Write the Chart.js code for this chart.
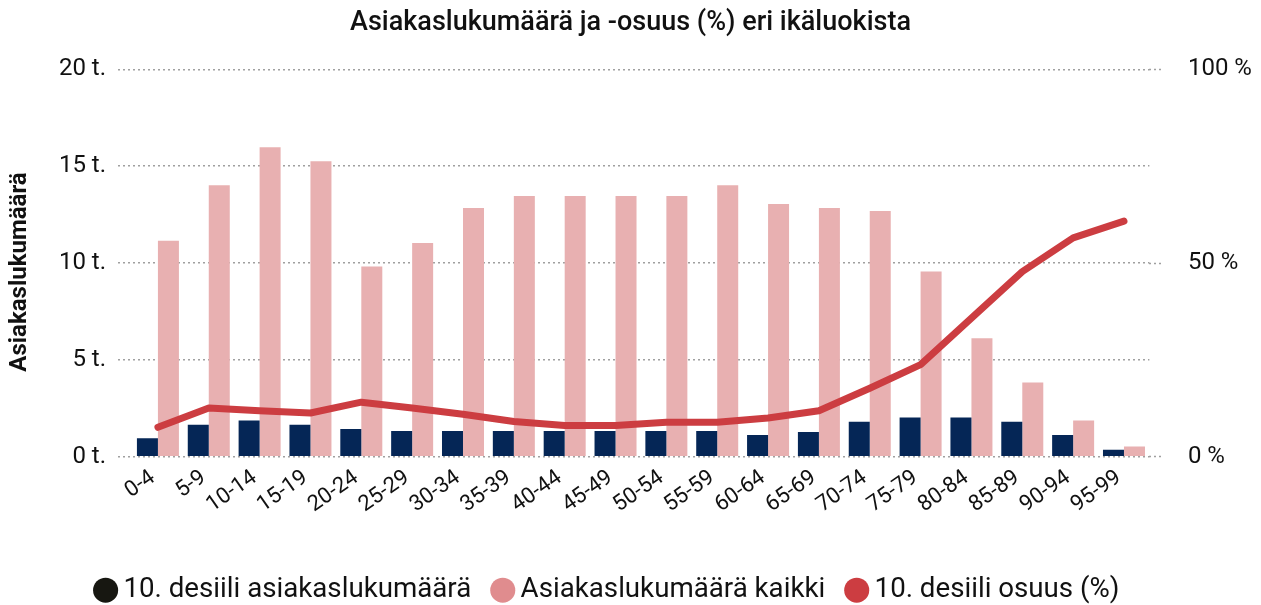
<!DOCTYPE html>
<html>
<head>
<meta charset="utf-8">
<script src="https://cdn.jsdelivr.net/npm/chart.js@4.4.1/dist/chart.umd.min.js"></script>
<style>
  html, body { margin: 0; padding: 0; background: #ffffff; }
  #wrap { width: 1261px; height: 605px; position: relative; }
</style>
</head>
<body>
<div id="wrap"><canvas id="c" width="1261" height="605"></canvas></div>
<script>
const categories = ['0-4','5-9','10-14','15-19','20-24','25-29','30-34','35-39','40-44','45-49','50-54','55-59','60-64','65-69','70-74','75-79','80-84','85-89','90-94','95-99'];
const desiili10Count = [960, 1650, 1870, 1650, 1440, 1330, 1330, 1330, 1330, 1330, 1330, 1330, 1120, 1280, 1810, 2030, 2030, 1810, 1120, 370];
const allCount = [11150, 14020, 15980, 15260, 9820, 11040, 12840, 13460, 13460, 13460, 13460, 14020, 13050, 12840, 12690, 9570, 6120, 3840, 1870, 530];
const desiili10Share = [7.6, 12.6, 11.9, 11.3, 14.1, 12.6, 11.0, 9.1, 8.1, 8.1, 8.9, 8.9, 10.0, 11.9, 17.7, 23.8, 35.8, 47.8, 56.5, 60.8];
const seriesNames = ['10. desiili asiakaslukumäärä', 'Asiakaslukumäärä kaikki', '10. desiili osuus (%)'];
const legendColors = ['#171711', '#e08c8e', '#cc3d41'];
const leftTicks = [0, 5000, 10000, 15000, 20000];
const rightTicks = [0, 50, 100];

const FONT = 'Roboto';
const gridColor = '#a0a0a0';
const gridDash = [2, 3];

const legendShift = {
  id: 'legendShift',
  afterLayout(chart) {
    const L = chart.legend;
    if (L) { L.left -= 20; L.right -= 20; }
  }
};

new Chart(document.getElementById('c'), {
  data: {
    labels: categories,
    datasets: [
      { type: 'bar', label: seriesNames[0], data: desiili10Count, backgroundColor: '#052656', yAxisID: 'y', order: 1,
        categoryPercentage: 0.826, barPercentage: 1 },
      { type: 'bar', label: seriesNames[1], data: allCount, backgroundColor: '#e8b0b1', yAxisID: 'y', order: 1,
        categoryPercentage: 0.826, barPercentage: 1 },
      { type: 'line', label: seriesNames[2], data: desiili10Share, borderColor: '#cc3d41', backgroundColor: '#cc3d41',
        borderWidth: 7, pointRadius: 0, pointHoverRadius: 0, borderCapStyle: 'round', borderJoinStyle: 'round',
        tension: 0, yAxisID: 'y1', order: 0 }
    ]
  },
  plugins: [legendShift],
  options: {
    responsive: false,
    animation: false,
    layout: { padding: { left: 0, right: 0, top: 0, bottom: -9 } },
    plugins: {
      tooltip: { enabled: false },
      title: {
        display: true,
        text: 'Asiakaslukumäärä ja -osuus (%) eri ikäluokista',
        color: '#111111',
        font: { family: FONT, size: 27, weight: '500' },
        padding: { top: 7, bottom: 29.9 }
      },
      legend: {
        position: 'bottom',
        labels: {
          usePointStyle: true,
          pointStyle: 'circle',
          boxWidth: 8,
          boxHeight: 17.7,
          padding: 27.5,
          color: '#111111',
          font: { family: FONT, size: 27.7 },
          sort: (a, b) => a.datasetIndex - b.datasetIndex,
          generateLabels: (chart) => {
            const items = Chart.defaults.plugins.legend.labels.generateLabels(chart);
            items.forEach(it => { it.fillStyle = legendColors[it.datasetIndex]; it.strokeStyle = legendColors[it.datasetIndex]; it.lineWidth = 0; });
            return items;
          }
        }
      }
    },
    scales: {
      x: {
        grid: { display: false },
        border: { display: false },
        ticks: {
          color: '#111111',
          font: { family: FONT, size: 22 },
          minRotation: 35, maxRotation: 35,
          padding: 0,
          labelOffset: -5,
          autoSkip: false
        },
        afterFit: (s) => { s.height = 92; }
      },
      y: {
        position: 'left',
        min: 0, max: 20000,
        afterBuildTicks: (s) => { s.ticks = leftTicks.map(v => ({ value: v })); },
        ticks: {
          color: '#111111',
          font: { family: FONT, size: 24 },
          padding: 12,
          callback: (v) => (v / 1000) + ' t.'
        },
        grid: {
          color: gridColor, lineWidth: 1.5,
          drawTicks: true, tickLength: 14.5, tickColor: gridColor, tickWidth: 1.5, tickBorderDash: gridDash
        },
        border: { display: false, dash: gridDash },
        title: {
          display: true, text: 'Asiakaslukumäärä   ', color: '#111111',
          font: { family: FONT, size: 24, weight: 'bold' },
          padding: { top: 6, bottom: 4 }
        },
        afterFit: (s) => { s.width = 132.5; }
      },
      y1: {
        position: 'right',
        min: 0, max: 100,
        afterBuildTicks: (s) => { s.ticks = rightTicks.map(v => ({ value: v })); },
        ticks: {
          color: '#111111',
          font: { family: FONT, size: 24 },
          padding: 24,
          callback: (v) => v + ' %'
        },
        grid: {
          drawOnChartArea: false, color: gridColor,
          drawTicks: true, tickLength: 14.5, tickColor: gridColor, tickWidth: 1.5, tickBorderDash: gridDash
        },
        border: { display: false },
        afterFit: (s) => { s.width = 111.6; }
      }
    }
  }
});
</script>
</body>
</html>
